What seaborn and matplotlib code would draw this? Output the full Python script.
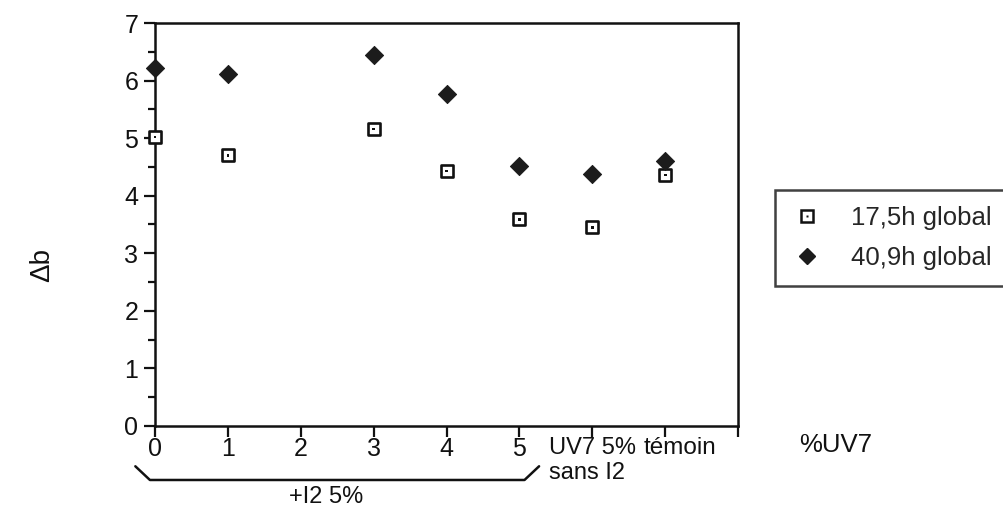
import numpy as np
import pandas as pd
import seaborn as sns
import matplotlib.pyplot as plt
from matplotlib.ticker import MultipleLocator
from matplotlib.transforms import ScaledTranslation, blended_transform_factory
from matplotlib.lines import Line2D
from matplotlib.legend_handler import HandlerTuple

# Données
positions = [0, 1, 3, 4, 5, 6, 7]
db_17h = [5.02, 4.70, 5.16, 4.43, 3.59, 3.45, 4.36]
db_41h = [6.22, 6.11, 6.44, 5.76, 4.51, 4.38, 4.60]
series = ["17,5h global", "40,9h global"]
tick_labels = ["0", "1", "2", "3", "4", "5", "UV7 5%\nsans I2", "témoin", ""]

df = pd.DataFrame({
    "x": positions * 2,
    "db": db_17h + db_41h,
    "serie": [series[0]] * len(positions) + [series[1]] * len(positions),
})

sns.set_style("ticks")
plt.rcParams["font.family"] = ["Liberation Sans", "DejaVu Sans"]

fig = plt.figure(figsize=(10.04, 5.07), dpi=100)
ax = fig.add_axes([0.1544, 0.1598, 0.5807, 0.7948])

sq = df[df["serie"] == series[0]]
dm = df[df["serie"] == series[1]]
sns.scatterplot(data=sq, x="x", y="db", marker="s", s=75, color="white",
                edgecolor="#111111", linewidth=1.9, ax=ax, legend=False, zorder=3, clip_on=False)
sns.scatterplot(data=sq, x="x", y="db", marker="s", s=4, color="#111111",
                edgecolor="none", ax=ax, legend=False, zorder=4, clip_on=False)
sns.scatterplot(data=dm, x="x", y="db", marker="D", s=85, color="#1c1c1c",
                edgecolor="#1c1c1c", ax=ax, legend=False, zorder=3, clip_on=False)

ax.set_xlim(0, 8)
ax.set_ylim(0, 7)
ax.set_xticks(range(9))
ax.set_xticklabels(tick_labels)
ax.yaxis.set_major_locator(MultipleLocator(1))
ax.yaxis.set_minor_locator(MultipleLocator(0.5))
ax.tick_params(axis="both", which="major", length=8, width=1.6, labelsize=18,
               color="#111111", labelcolor="#111111", pad=4)
ax.tick_params(axis="y", which="minor", length=5, width=1.6, color="#111111")
ax.tick_params(axis="x", labelsize=17, pad=0)
for sp in ax.spines.values():
    sp.set_linewidth(1.8)
    sp.set_color("#111111")
ax.set_xlabel("")
ax.set_ylabel("")

xl = ax.get_xticklabels()
for i, lab in enumerate(xl):
    if i <= 5:
        lab.set_fontsize(18)
xl[6].set_multialignment("left")
xl[7].set_fontsize(17.5)
xl[7].set_transform(xl[7].get_transform() + ScaledTranslation(0.15, 0, fig.dpi_scale_trans))

# accolade sous 0..5
tr = blended_transform_factory(ax.transData, ax.transAxes)
bx = [-0.27, -0.07, 5.07, 5.27]
by = [-0.100, -0.134, -0.134, -0.100]
ax.plot(bx, by, color="#111111", lw=1.8, transform=tr, clip_on=False)
ax.text(2.35, -0.175, "+I2 5%", transform=tr, ha="center", va="center", fontsize=17, color="#111111")

fig.text(0.042, 0.477, "Δb", rotation=90, ha="center", va="center", fontsize=20, color="#111111")
fig.text(0.832, 0.122, "%UV7", ha="center", va="center", fontsize=18.5, color="#111111")

h_sq = Line2D([], [], marker="s", ls="none", markersize=8, markerfacecolor="white",
              markeredgecolor="#111111", markeredgewidth=1.8)
h_dot = Line2D([], [], marker="s", ls="none", markersize=2, markerfacecolor="#111111",
               markeredgecolor="none")
h_dm = Line2D([], [], marker="D", ls="none", markersize=8, color="#1c1c1c")
leg = fig.legend([(h_sq, h_dot), h_dm], series, loc="upper left",
                 bbox_to_anchor=(0.772, 0.435, 0.26, 0.19), mode="expand", borderaxespad=0,
                 fontsize=18.5, frameon=True, fancybox=False,
                 handler_map={tuple: HandlerTuple(ndivide=1, pad=0)},
                 borderpad=0.62, handletextpad=1.1, labelspacing=0.62, handlelength=1.25)
leg.get_frame().set_edgecolor("#111111")
leg.get_frame().set_linewidth(1.8)

fig.savefig("out.png", dpi=100)
